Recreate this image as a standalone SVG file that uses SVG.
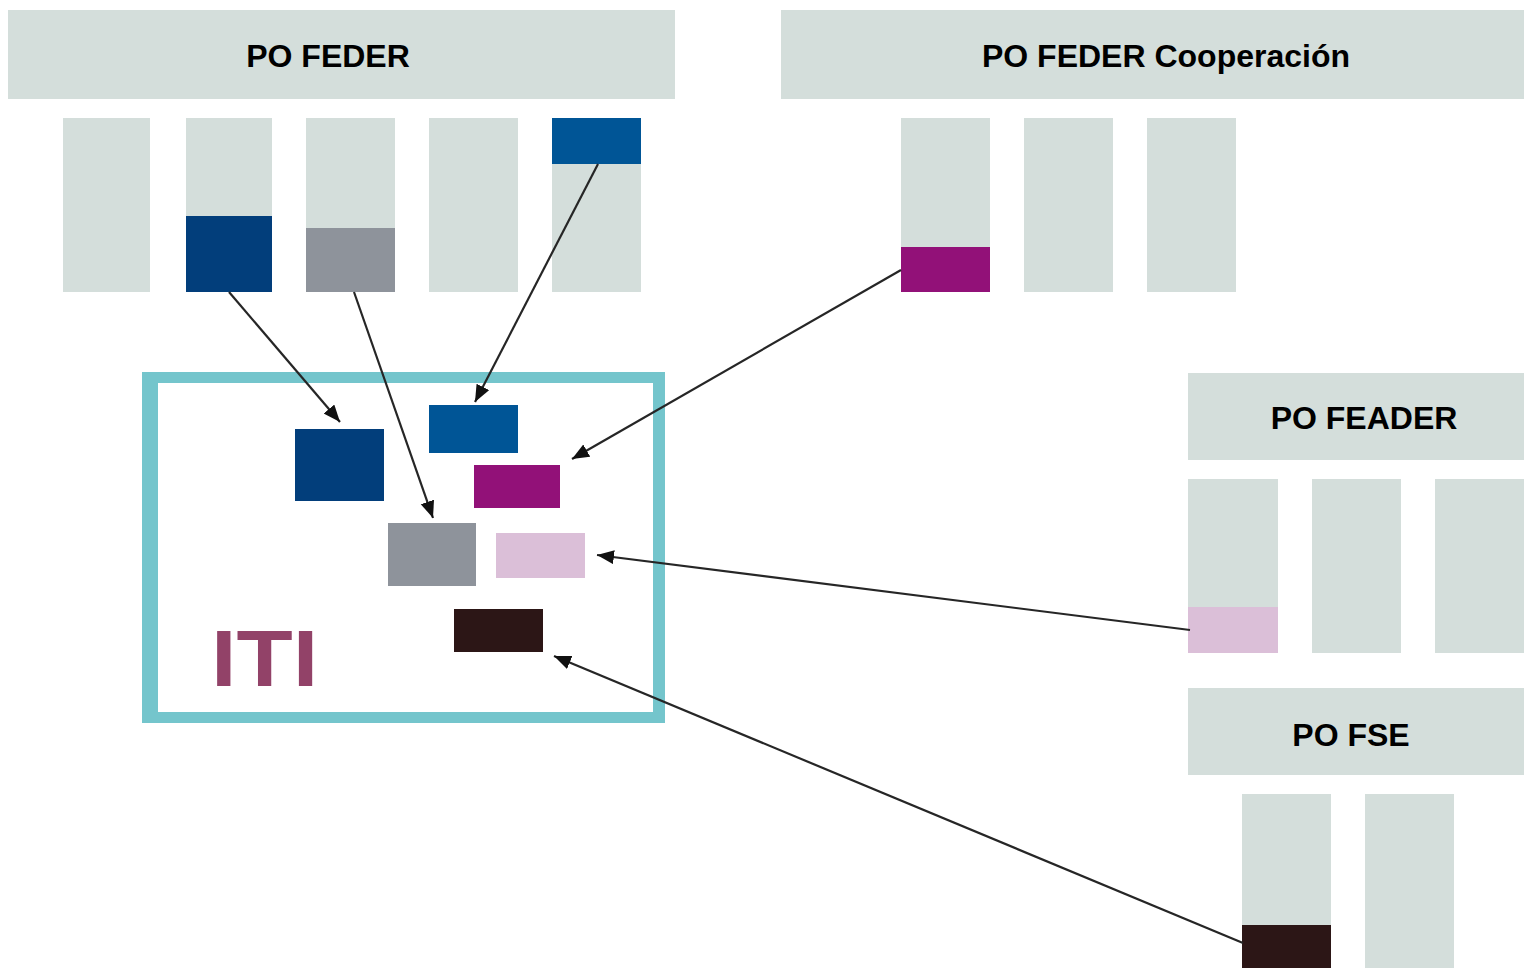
<svg xmlns="http://www.w3.org/2000/svg" width="1537" height="980" viewBox="0 0 1537 980">
  <style>
    .hdr { fill: #d4dedb; }
    .col { fill: #d4dedb; }
    .lbl { font-family: "Liberation Sans", Arial, sans-serif; font-weight: bold; font-size: 32px; fill: #000; text-anchor: middle; }
    .conn { stroke: #262626; stroke-width: 2.2; fill: none; marker-end: url(#arrow); }
  </style>
  <defs>
    <marker id="arrow" markerUnits="userSpaceOnUse" markerWidth="20" markerHeight="16" refX="17" refY="7" orient="auto">
      <path d="M0,0 L17,7 L0,14 Z" fill="#111"/>
    </marker>
  </defs>
  <rect width="1537" height="980" fill="#fff"/>

  <g id="po-feder">
    <rect class="hdr" x="8" y="10" width="667" height="89"/>
    <text class="lbl" x="328" y="67">PO FEDER</text>
    <rect class="col" x="63" y="118" width="87" height="174"/>
    <rect class="col" x="186" y="118" width="86" height="174"/>
    <rect x="186" y="216" width="86" height="76" fill="#023e7b"/>
    <rect class="col" x="306" y="118" width="89" height="174"/>
    <rect x="306" y="228" width="89" height="64" fill="#8e939b"/>
    <rect class="col" x="429" y="118" width="89" height="174"/>
    <rect class="col" x="552" y="118" width="89" height="174"/>
    <rect x="552" y="118" width="89" height="46" fill="#005596"/>
  </g>

  <g id="po-feder-cooperacion">
    <rect class="hdr" x="781" y="10" width="743" height="89"/>
    <text class="lbl" x="1166" y="67">PO FEDER Cooperación</text>
    <rect class="col" x="901" y="118" width="89" height="174"/>
    <rect x="901" y="247" width="89" height="45" fill="#921178"/>
    <rect class="col" x="1024" y="118" width="89" height="174"/>
    <rect class="col" x="1147" y="118" width="89" height="174"/>
  </g>

  <g id="po-feader">
    <rect class="hdr" x="1188" y="373" width="336" height="87"/>
    <text class="lbl" x="1364" y="429">PO FEADER</text>
    <rect class="col" x="1188" y="479" width="90" height="174"/>
    <rect x="1188" y="607" width="90" height="46" fill="#dbbfd8"/>
    <rect class="col" x="1312" y="479" width="89" height="174"/>
    <rect class="col" x="1435" y="479" width="89" height="174"/>
  </g>

  <g id="po-fse">
    <rect class="hdr" x="1188" y="688" width="336" height="87"/>
    <text class="lbl" x="1351" y="746">PO FSE</text>
    <rect class="col" x="1242" y="794" width="89" height="174"/>
    <rect x="1242" y="925" width="89" height="43" fill="#2c1616"/>
    <rect class="col" x="1365" y="794" width="89" height="174"/>
  </g>

  <g id="iti">
    <path d="M142,372 H665 V723 H142 Z M158,383 V712 H653 V383 Z" fill="#74c5cc" fill-rule="evenodd"/>
    <text transform="translate(211,686) scale(1.15,1)" font-family="'Liberation Sans', Arial, sans-serif" font-weight="bold" font-size="80" fill="#924268">ITI</text>
    <rect x="295" y="429" width="89" height="72" fill="#023e7b"/>
    <rect x="429" y="405" width="89" height="48" fill="#005596"/>
    <rect x="474" y="465" width="86" height="43" fill="#921178"/>
    <rect x="388" y="523" width="88" height="63" fill="#8e939b"/>
    <rect x="496" y="533" width="89" height="45" fill="#dbbfd8"/>
    <rect x="454" y="609" width="89" height="43" fill="#2c1616"/>
  </g>

  <g id="connectors">
    <line class="conn" x1="229" y1="292" x2="340" y2="422"/>
    <line class="conn" x1="354" y1="292" x2="433" y2="518"/>
    <line class="conn" x1="598" y1="164" x2="475" y2="402"/>
    <line class="conn" x1="901" y1="270" x2="572" y2="459"/>
    <line class="conn" x1="1190" y1="630" x2="597" y2="555"/>
    <line class="conn" x1="1243" y1="943" x2="554" y2="656"/>
  </g>
</svg>
